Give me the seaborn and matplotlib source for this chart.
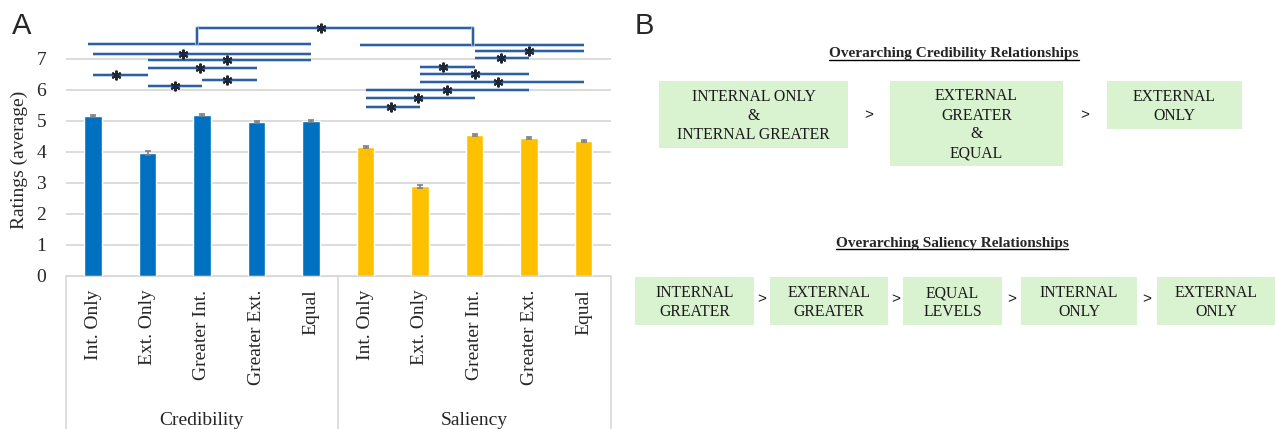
import numpy as np
import pandas as pd
import matplotlib
matplotlib.use("Agg")
import matplotlib.pyplot as plt
from matplotlib.patches import Rectangle
from matplotlib.lines import Line2D
import matplotlib.patheffects as pe
import seaborn as sns

## data ##
conditions = ["Int. Only", "Ext. Only", "Greater Int.", "Greater Ext.", "Equal"]
groups = ["Credibility", "Saliency"]
cred_means = [5.16, 3.96, 5.19, 4.96, 4.99]
cred_err = [0.03, 0.07, 0.04, 0.04, 0.04]
sal_means = [4.15, 2.89, 4.53, 4.44, 4.35]
sal_err = [0.03, 0.05, 0.03, 0.03, 0.04]

# significant pairwise comparisons: (bar a, bar b), line height, asterisk x
cred_pairs = [(0, 4), (1, 4), (1, 3), (0, 1), (2, 3), (1, 2)]
cred_levels = [7.14, 6.95, 6.69, 6.46, 6.30, 6.12]
cred_star = [1.65, 2.45, 1.96, 0.43, 2.45, 1.5]
sal_pairs = [(7, 9), (7, 8), (6, 7), (6, 8), (6, 9), (5, 8), (5, 7), (5, 6)]
sal_levels = [7.25, 7.01, 6.72, 6.50, 6.24, 5.99, 5.72, 5.44]
sal_star = [8.0, 7.49, 6.43, 7.0, 7.44, 6.49, 5.97, 5.47]
group_spans = [(0, 4), (5, 9)]
group_levels = [7.46, 7.43]
top_span = (1.9, 6.98)
top_level = 7.98
top_star = 4.18

cred_boxes = ["INTERNAL ONLY\n&\nINTERNAL GREATER", "EXTERNAL\nGREATER\n&\nEQUAL", "EXTERNAL\nONLY"]
sal_boxes = ["INTERNAL\nGREATER", "EXTERNAL\nGREATER", "EQUAL\nLEVELS", "INTERNAL\nONLY", "EXTERNAL\nONLY"]

BLUE = "#0070c0"
GOLD = "#ffc000"
LINE = "#2c5e9c"
GRID = "#d9d9d9"
BOXC = "#d9f2d0"
SERIF = ["Liberation Serif", "DejaVu Serif"]

W, H = 1275, 429

sns.set_style("white")
plt.rcParams["font.family"] = SERIF

df = pd.DataFrame({
    "key": [f"{g}|{c}" for g in groups for c in conditions],
    "group": [g for g in groups for c in conditions],
    "rating": cred_means + sal_means,
    "err": cred_err + sal_err,
})

fig = plt.figure(figsize=(W / 100, H / 100), dpi=100)

def fx(px):
    return px / W

def fy(py):
    return 1 - py / H

# Panel A axes: x from 65.75px to 610.75px, y0 at 275.7px, 31px per unit
ax = fig.add_axes([fx(65.75), fy(275.7), 545 / W, 275.7 / H])
sns.barplot(data=df, x="key", y="rating", hue="group", order=list(df["key"]),
            palette={"Credibility": BLUE, "Saliency": GOLD}, dodge=False,
            width=0.33, errorbar=None, legend=False, ax=ax, saturation=1)
xs = np.arange(len(df))
ax.errorbar(xs, df["rating"], yerr=df["err"], fmt="none", ecolor="#7f7f7f",
            elinewidth=1.2, capsize=2.5, capthick=1.2, zorder=4)

ax.set_xlim(-0.5, 9.5)
ax.set_ylim(0, 275.7 / 31)
ax.set_yticks(range(0, 8))
ax.yaxis.grid(True, color=GRID, lw=1.3, zorder=0)
ax.set_axisbelow(True)
for s in ["top", "right", "left"]:
    ax.spines[s].set_visible(False)
ax.spines["bottom"].set_color(GRID)
ax.tick_params(axis="y", length=0, pad=14, labelsize=14)
ax.tick_params(axis="x", length=0, pad=10, labelsize=14)
ax.set_xticks(xs)
ax.set_xticklabels(conditions * 2, rotation=90, va="top")
ax.set_xlabel("")
ax.set_ylabel("")

# category box under the axis
for xv in [-0.5, 4.5, 9.5]:
    ax.plot([xv, xv], [0, -5.2], color=GRID, lw=1.2, clip_on=False)
for i, g in enumerate(groups):
    ax.text(2 + 5 * i, -4.66, g, ha="center", va="center", fontsize=14)

fig.text(fx(19), fy(160), "Ratings (average)", rotation=90, ha="center",
         va="center", fontsize=14)

# significance lines
halo = [pe.Stroke(linewidth=2.6, foreground="#b3c8e4"), pe.Normal()]

def sig_line(x0, x1, y, star=None):
    ax.plot([x0, x1], [y, y], color=LINE, lw=1.4, clip_on=False,
            path_effects=halo, solid_capstyle="butt")
    if star is not None:
        ax.plot(star, y, marker=(6, 2, 0), ms=7, mew=1.5, color="#1e2733",
                clip_on=False, zorder=5)

for (a, b), lv, st in zip(cred_pairs + sal_pairs, cred_levels + sal_levels, cred_star + sal_star):
    sig_line(a, b, lv, st)
for (a, b), lv in zip(group_spans, group_levels):
    sig_line(a - 0.1, b, lv)
sig_line(top_span[0], top_span[1], top_level, top_star)
for xv, lv in zip(top_span, group_levels):
    ax.plot([xv, xv], [lv, top_level], color=LINE, lw=1.4, clip_on=False,
            path_effects=halo)

# panel letters
fig.text(fx(12), fy(12), "A", fontsize=21, family=["Liberation Sans", "DejaVu Sans"], va="top")
fig.text(fx(635), fy(12), "B", fontsize=21, family=["Liberation Sans", "DejaVu Sans"], va="top")

# Panel B flow boxes
def box(x0, x1, y0, y1, label):
    fig.add_artist(Rectangle((fx(x0), fy(y1)), (x1 - x0) / W, (y1 - y0) / H,
                             transform=fig.transFigure, color=BOXC, lw=0))
    fig.text(fx((x0 + x1) / 2), fy((y0 + y1) / 2 + 1.5), label, ha="center",
             va="center", fontsize=11.3, linespacing=1.25, color="#1a1a1a")

def gt(x, y):
    fig.text(fx(x), fy(y), ">", ha="center", va="center", fontsize=11,
             family=["Liberation Sans", "DejaVu Sans"], color="#1a1a1a")

titles = []
titles.append(fig.text(fx(954), fy(54), "Overarching Credibility Relationships",
                       ha="center", va="center", fontsize=11, weight="bold"))
cred_geom = [(659, 848, 81, 148), (890, 1063, 81, 166), (1107, 1242, 81, 129)]
for (x0, x1, y0, y1), lab in zip(cred_geom, cred_boxes):
    box(x0, x1, y0, y1, lab)
for i in range(len(cred_geom) - 1):
    gt((cred_geom[i][1] + cred_geom[i + 1][0]) / 2, 115)

titles.append(fig.text(fx(952), fy(244), "Overarching Saliency Relationships",
                       ha="center", va="center", fontsize=11, weight="bold"))
sal_geom = [(635, 754, 277, 325), (770, 888, 277, 325), (903, 1002, 277, 325),
            (1021, 1137, 277, 325), (1157, 1275, 277, 325)]
for (x0, x1, y0, y1), lab in zip(sal_geom, sal_boxes):
    box(x0, x1, y0, y1, lab)
for i in range(len(sal_geom) - 1):
    gt((sal_geom[i][1] + sal_geom[i + 1][0]) / 2, 299)

# underline the titles
fig.canvas.draw()
r = fig.canvas.get_renderer()
for t in titles:
    bb = t.get_window_extent(r)
    fig.add_artist(Line2D([bb.x0 / W, bb.x1 / W], [(bb.y0 + 1) / H] * 2,
                          transform=fig.transFigure, color="black", lw=1))

fig.savefig("out.png", dpi=100)
